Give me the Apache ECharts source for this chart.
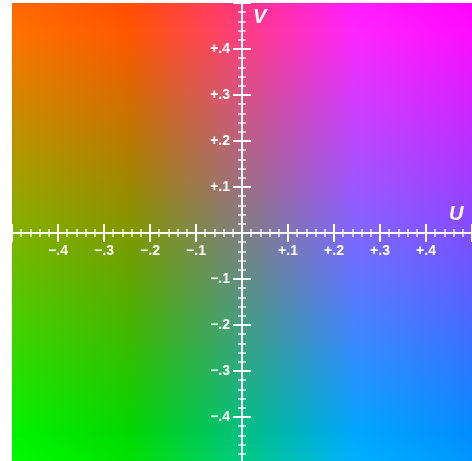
<!DOCTYPE html>
<html>
<head>
<meta charset="utf-8">
<script src="https://cdn.jsdelivr.net/npm/echarts@6/dist/echarts.min.js"></script>
<style>
  html, body { margin: 0; padding: 0; background: #fff; }
  #main { width: 472px; height: 461px; }
</style>
</head>
<body>
<div id="main"></div>
<script>
// UV plane of YUV at fixed luma
var uRange = [-0.5, 0.5];
var vRange = [-0.5, 0.5];
var lumaY = 0.5;
// BT.601 YUV -> RGB rows: [Y, U, V]
var rowR = [1, 0, 1.13983];
var rowG = [1, -0.39465, -0.58060];
var rowB = [1, 2.03211, 0];

var tickValues = [-0.4, -0.3, -0.2, -0.1, 0.1, 0.2, 0.3, 0.4];
var tickLabels = ['\u2212.4', '\u2212.3', '\u2212.2', '\u2212.1', '+.1', '+.2', '+.3', '+.4'];

var rowCount = 460;   // one strip per pixel row
var stopCount = 40;   // colour stops along U

function clamp(x) { return Math.max(0, Math.min(1, x)); }
function yuvColor(u, v) {
  var r = clamp(rowR[0] * lumaY + rowR[1] * u + rowR[2] * v);
  var g = clamp(rowG[0] * lumaY + rowG[1] * u + rowG[2] * v);
  var b = clamp(rowB[0] * lumaY + rowB[1] * u + rowB[2] * v);
  return 'rgb(' + Math.round(r * 255) + ',' + Math.round(g * 255) + ',' + Math.round(b * 255) + ')';
}

var rowStep = (vRange[1] - vRange[0]) / rowCount;
var rows = [];
for (var i = 0; i < rowCount; i++) {
  rows.push([0, vRange[0] + (i + 0.5) * rowStep]);
}

function fmt(val) {
  for (var i = 0; i < tickValues.length; i++) {
    if (Math.abs(val - tickValues[i]) < 1e-6) return tickLabels[i];
  }
  return '';
}

var white = '#ffffff';
// axes sit in the middle of the grid: pulled in by half the grid size
function makeAxis(pos, withLabels) {
  return {
    type: 'value',
    position: pos,
    offset: -230,
    min: uRange[0],
    max: uRange[1],
    interval: 0.1,
    z: 10,
    axisLine: { onZero: false, lineStyle: { color: white, width: 2 } },
    axisTick: { show: true, length: 9, lineStyle: { color: white, width: 2 } },
    minorTick: { show: true, splitNumber: 5, length: 4, lineStyle: { color: white, width: 1.5, opacity: 0.85 } },
    splitLine: { show: false },
    minorSplitLine: { show: false },
    axisLabel: {
      show: withLabels,
      formatter: fmt,
      color: white,
      fontFamily: 'Liberation Sans',
      fontWeight: 'bold',
      fontSize: 14,
      margin: pos === 'bottom' ? 11 : 12,
      showMinLabel: false,
      showMaxLabel: false
    }
  };
}

var chart = echarts.init(document.getElementById('main'));
chart.setOption({
  animation: false,
  grid: { left: 12, top: 3, width: 460, height: 460, containLabel: false, outerBoundsMode: 'none' },
  xAxis: [makeAxis('bottom', true), makeAxis('top', false)],
  yAxis: [makeAxis('left', true), makeAxis('right', false)],
  series: [{
    type: 'custom',
    xAxisIndex: 0,
    yAxisIndex: 0,
    clip: true,
    silent: true,
    data: rows,
    renderItem: function (params, api) {
      var v = api.value(1);
      var p0 = api.coord([uRange[0], v + rowStep / 2]);
      var p1 = api.coord([uRange[1], v - rowStep / 2]);
      var y0 = Math.round(p0[1]);
      var y1 = Math.round(p1[1]);
      var stops = [];
      for (var k = 0; k <= stopCount; k++) {
        var u = uRange[0] + (uRange[1] - uRange[0]) * k / stopCount;
        stops.push({ offset: k / stopCount, color: yuvColor(u, v) });
      }
      return {
        type: 'rect',
        shape: { x: Math.round(p0[0]), y: y0, width: Math.round(p1[0]) - Math.round(p0[0]), height: y1 - y0 },
        style: { fill: new echarts.graphic.LinearGradient(0, 0, 1, 0, stops) }
      };
    }
  }],
  graphic: [
    { type: 'text', z: 20, left: 449, top: 204,
      style: { text: 'U', fill: white, font: 'italic bold 20px "Liberation Sans"' } },
    { type: 'text', z: 20, left: 253, top: 7,
      style: { text: 'V', fill: white, font: 'italic bold 20px "Liberation Sans"' } }
  ]
});
</script>
</body>
</html>
